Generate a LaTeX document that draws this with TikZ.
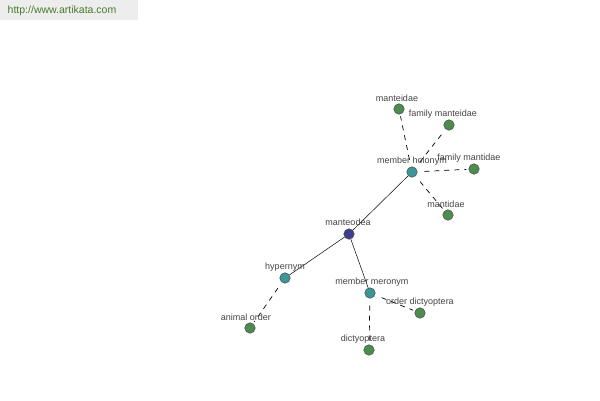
\documentclass[tikz,border=0pt]{standalone}
\usepackage{fontspec}
\setmainfont{Liberation Sans}
\definecolor{hubblue}{HTML}{3F3F8F}
\definecolor{relteal}{HTML}{3C9696}
\definecolor{leafgreen}{HTML}{4C8C4C}
\definecolor{urlgreen}{HTML}{4A7A2A}
\definecolor{labelgray}{HTML}{444444}

\begin{document}
\begin{tikzpicture}[
    x=1pt, y=-1pt,
    dot/.style={circle, draw=black!70, line width=0.5pt, inner sep=0pt, minimum size=10.5pt},
    hub/.style={dot, fill=hubblue},
    rel/.style={dot, fill=relteal},
    leaf/.style={dot, fill=leafgreen},
    lbl/.style={font=\fontsize{9}{10}\selectfont, text=labelgray, inner sep=0pt},
    solidedge/.style={line width=0.5pt, black},
    dashedge/.style={line width=0.7pt, black, dash pattern=on 5pt off 5pt, shorten <=7pt, shorten >=2pt}
]

% 1. Canvas and watermark
\useasboundingbox (0,0) rectangle (600,400);
\fill[white] (0,0) rectangle (600,400);
\fill[black!7] (0,0) rectangle (138,20);
\node[font=\fontsize{10.5}{12}\selectfont, text=urlgreen, inner sep=0pt] (url) at (62,11) {http://www.artikata.com};

% 2. Nodes
\node[hub]  (manteodea) at (349,234) {};
\node[rel]  (holonym)   at (412,172) {};
\node[rel]  (hypernym)  at (285,278) {};
\node[rel]  (meronym)   at (370,293) {};
\node[leaf] (manteidae) at (399,109) {};
\node[leaf] (fammanteidae) at (449,125) {};
\node[leaf] (fammantidae)  at (474,169) {};
\node[leaf] (mantidae)  at (448,215) {};
\node[leaf] (animalorder) at (250,328) {};
\node[leaf] (orderdict) at (420,313) {};
\node[leaf] (dictyoptera) at (369,350) {};

% 3. Edges
\draw[solidedge] (manteodea) -- (holonym);
\draw[solidedge] (manteodea) -- (hypernym);
\draw[solidedge] (manteodea) -- (meronym);
\foreach \t in {manteidae, fammanteidae, fammantidae, mantidae}
    \draw[dashedge] (holonym) -- (\t);
\draw[dashedge] (hypernym) -- (animalorder);
\draw[dashedge] (meronym) -- (orderdict);
\draw[dashedge] (meronym) -- (dictyoptera);

% 4. Labels
\node[lbl] at (348,222) {manteodea};
\node[lbl] at (412,161) {member holonym};
\node[lbl] at (397,98)  {manteidae};
\node[lbl] at (443,114) {family manteidae};
\node[lbl] at (469,158) {family mantidae};
\node[lbl] at (446,204) {mantidae};
\node[lbl] at (285,267) {hypernym};
\node[lbl] at (246,317) {animal order};
\node[lbl] at (372,282) {member meronym};
\node[lbl] at (420,302) {order dictyoptera};
\node[lbl] at (363,339) {dictyoptera};

\end{tikzpicture}
\end{document}
